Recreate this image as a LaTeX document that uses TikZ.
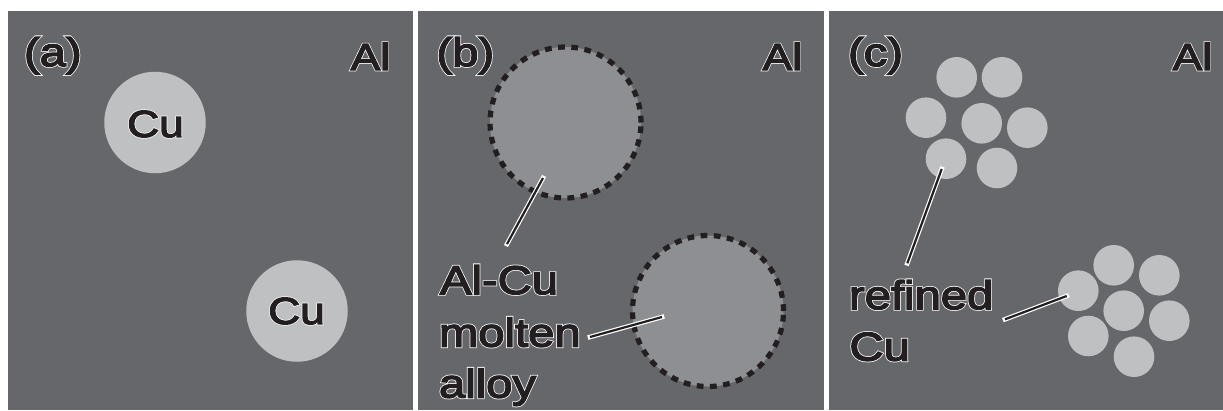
\documentclass[tikz,border=0pt]{standalone}
\usepackage{fontspec}
% outlined labels: a heavily emboldened white copy under a dark copy
\newfontfamily\lfw{Liberation Sans}[FakeStretch=1.18,FakeBold=7.6]
\newfontfamily\lfk{Liberation Sans}[FakeStretch=1.18,FakeBold=3.8]
\definecolor{panelgray}{RGB}{102,103,107}
\definecolor{cugray}{RGB}{191,192,194}
\definecolor{meltgray}{RGB}{142,143,147}
\definecolor{ink}{RGB}{35,31,32}

% #1 name, #2 position, #3 anchor, #4 font size, #5 text
\newcommand\olab[5]{%
  \node[txt, anchor=#3] (#1w) at (#2) {\fontsize{#4}{#4}\lfw\color{white}#5};
  \node[txt, anchor=#3] (#1) at (#2) {\fontsize{#4}{#4}\lfk\color{ink}#5};}

\begin{document}
\begin{tikzpicture}[x=1pt,y=-1pt,
  txt/.style={inner sep=0pt, outer sep=0pt},
  cugrain/.style={circle, fill=cugray, draw=none, inner sep=0pt, minimum size=#1},
  meltpool/.style={circle, fill=meltgray, draw=ink, line width=5.2pt,
                   dash pattern=on 6.8pt off 6.45pt, inner sep=0pt, minimum size=151pt},
  leader/.style={draw=ink, line width=2.2pt,
                 preaction={draw=white, line width=4.6pt, line cap=rect}}]
\useasboundingbox (0,0) rectangle (1223,410);
\fill[white] (0,0) rectangle (1223,410);

% three panels of the Al matrix
\fill[panelgray] (8,11) rectangle (413,410);
\fill[panelgray] (418,11) rectangle (824,410);
\fill[panelgray] (829,11) rectangle (1223,410);

% ---------- (a) ----------
\olab{pa}{24,66}{base west}{40}{(a)}
\olab{ala}{390,70}{base east}{37.5}{Al}
\node[cugrain=101.5pt] (ca1) at (155,122.5) {};
\node[cugrain=101.5pt] (ca2) at (297,311) {};
\olab{cua1}{155.5,124}{center}{37.5}{Cu}
\olab{cua2}{296.5,311}{center}{37.5}{Cu}

% ---------- (b) ----------
\olab{pb}{436.5,66}{base west}{40}{(b)}
\olab{alb}{802,70}{base east}{37.5}{Al}
\node[meltpool] (mb1) at (565.5,122.5) {};
\node[meltpool] (mb2) at (708,311) {};
\olab{lb1}{440,294}{base west}{40}{Al-Cu}
\olab{lb2}{439,346.5}{base west}{40}{molten}
\olab{lb3}{439,397.5}{base west}{40}{alloy}
\coordinate (b1tip) at (543,178);
\coordinate (b1end) at (507,244);
\coordinate (b2tip) at (662,317);
\coordinate (b2end) at (590,337);
\draw[leader] (b1tip) -- (b1end);
\draw[leader] (b2tip) -- (b2end);

% ---------- (c) ----------
\olab{pc}{848,66}{base west}{40}{(c)}
\olab{alc}{1212,70}{base east}{37.5}{Al}
\foreach \n/\x/\y in {1/956.7/77.3, 2/1002/77.3, 3/926/117.7, 4/981.7/123.3,
                      5/1027.3/127.7, 6/946/158.7, 7/997/168}
  \node[cugrain=40.6pt] (g1\n) at (\x,\y) {};
\foreach \n/\x/\y in {1/1113.7/265.3, 2/1159.3/275.3, 3/1078.3/290.7, 4/1123.7/310.7,
                      5/1169.3/320.7, 6/1088.3/336, 7/1134/356.7}
  \node[cugrain=40.6pt] (g2\n) at (\x,\y) {};
\olab{lc1}{849,309}{base west}{40}{refined}
\olab{lc2}{849.5,360.5}{base west}{40}{Cu}
\coordinate (c1tip) at (941.7,169);
\coordinate (c1end) at (907.3,263.3);
\coordinate (c2tip) at (1066.7,296);
\coordinate (c2end) at (1005,319.3);
\draw[leader] (c1tip) -- (c1end);
\draw[leader] (c2tip) -- (c2end);
\end{tikzpicture}
\end{document}
